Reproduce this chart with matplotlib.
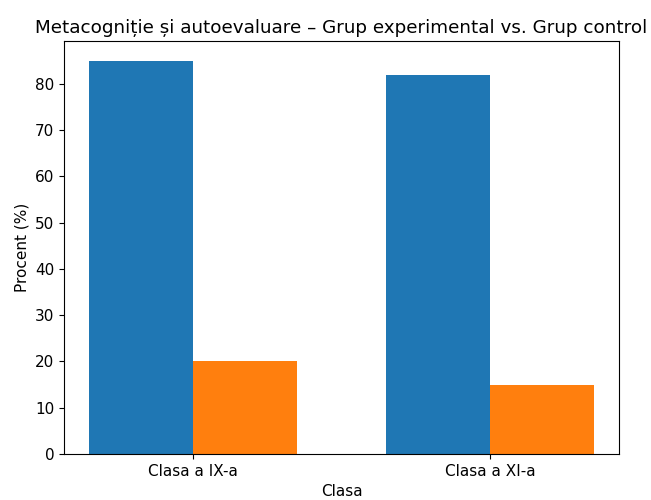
import numpy as np
import matplotlib
matplotlib.use('Agg')
import matplotlib.pyplot as plt

categories = ['Clasa a IX-a', 'Clasa a XI-a']
experimental = [85, 82]
control = [20, 15]


def main():
    plt.rcParams['font.size'] = 11
    fig = plt.figure(figsize=(6.51, 5.0), dpi=100)
    ax = fig.add_axes([0.0983, 0.092, 0.8525, 0.826])

    x = np.arange(len(categories))
    width = 0.35
    ax.bar(x - width / 2, experimental, width, label='Grup experimental')
    ax.bar(x + width / 2, control, width, label='Grup control')

    ax.set_xticks(x)
    ax.set_xticklabels(categories)
    ax.set_xlabel('Clasa')
    ax.set_ylabel('Procent (%)')
    ax.set_title('Metacogniție și autoevaluare – Grup experimental vs. Grup control')

    fig.savefig('out.png', dpi=100)


if __name__ == "__main__":
    main()
